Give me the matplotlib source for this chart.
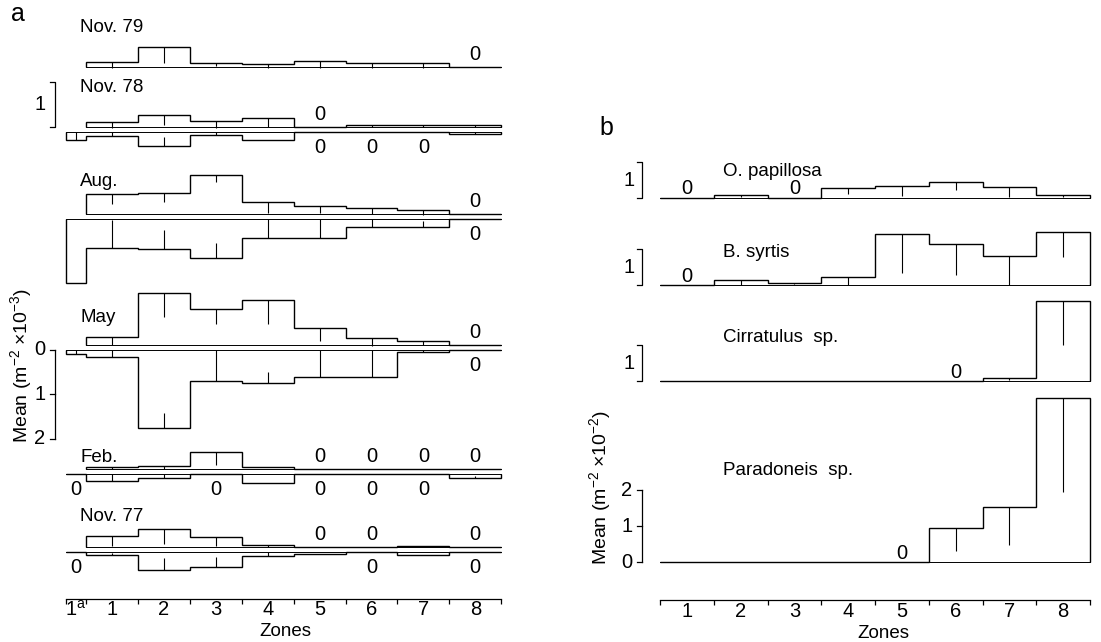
import numpy as np
import matplotlib.pyplot as plt

plt.rcParams['font.family'] = ['Liberation Sans', 'DejaVu Sans']
plt.rcParams['mathtext.fontset'] = 'custom'
plt.rcParams['mathtext.rm'] = 'Liberation Sans'
plt.rcParams['mathtext.it'] = 'Liberation Sans:italic'
plt.rcParams['mathtext.default'] = 'regular'

W, H = 1101, 642
nan = np.nan

# ---------------- panel a: mean density (x10^3 per m^2) by zone ----------------
zones_a = ['1a', '1', '2', '3', '4', '5', '6', '7', '8']
months = ['Nov. 79', 'Nov. 78', 'Aug.', 'May', 'Feb.', 'Nov. 77']

# upper histograms (zone 1a not sampled)
nov79_up = [nan, 0.11, 0.44, 0.09, 0.07, 0.13, 0.08, 0.09, 0]
nov78_up = [nan, 0.11, 0.27, 0.13, 0.20, 0, 0.04, 0.04, 0.05]
aug_up = [nan, 0.45, 0.48, 0.88, 0.27, 0.18, 0.13, 0.08, 0]
may_up = [nan, 0.18, 1.16, 0.82, 1.02, 0.38, 0.16, 0.09, 0]
feb_up = [nan, 0.05, 0.06, 0.38, 0.05, 0, 0, 0, 0]
nov77_up = [nan, 0.25, 0.40, 0.22, 0.05, 0, 0, 0.03, 0]

nov79_up_se = [nan, 0.13, 0.34, 0.07, 0.10, 0.15, 0.14, 0.15, 0]
nov78_up_se = [nan, 0.13, 0.22, 0.17, 0.19, 0, 0.05, 0.05, 0.05]
aug_up_se = [nan, 0.22, 0.22, 0.16, 0.25, 0.16, 0.13, 0.10, 0]
may_up_se = [nan, 0.18, 0.54, 0.34, 0.54, 0.28, 0.18, 0.09, 0]
feb_up_se = [nan, 0.05, 0.05, 0.29, 0, 0, 0, 0, 0]
nov77_up_se = [nan, 0.22, 0.33, 0.20, 0.05, 0, 0, 0, 0]

# lower (mirrored) histograms
nov78_lo = [0.18, 0.10, 0.31, 0.07, 0.18, 0, 0, 0, 0.04]
aug_lo = [1.45, 0.65, 0.68, 0.87, 0.43, 0.43, 0.18, 0.18, 0]
may_lo = [0.09, 0.16, 1.76, 0.70, 0.74, 0.62, 0.62, 0.05, 0]
feb_lo = [0, 0.16, 0.09, 0, 0.20, 0, 0, 0, 0.09]
nov77_lo = [0, 0.07, 0.40, 0.33, 0.10, 0.04, 0, 0.06, 0]

nov78_lo_se = [0.18, 0.10, 0.20, 0.07, 0, 0, 0, 0, 0.04]
aug_lo_se = [0, 0.62, 0.43, 0.33, 0.43, 0.43, 0.18, 0.14, 0]
may_lo_se = [0.09, 0.16, 0.34, 0.70, 0.24, 0.62, 0.62, 0.05, 0]
feb_lo_se = [0, 0.16, 0.09, 0, 0, 0, 0, 0, 0.05]
nov77_lo_se = [0, 0.05, 0.26, 0.22, 0.10, 0, 0, 0, 0]

# ---------------- panel b: mean density (x10^2 per m^2) by zone ----------------
zones_b = ['1', '2', '3', '4', '5', '6', '7', '8']
species = ['O. papillosa', 'B. syrtis', 'Cirratulus  sp.', 'Paradoneis  sp.']
opap = [0, 0.08, 0, 0.28, 0.33, 0.44, 0.30, 0.08]
bsyr = [0, 0.14, 0.06, 0.22, 1.42, 1.14, 0.80, 1.47]
cirr = [0, 0, 0, 0, 0, 0, 0.08, 2.22]
para = [0, 0, 0, 0, 0, 0.95, 1.52, 4.55]
opap_se = [0, 0.06, 0, 0.16, 0.28, 0.23, 0.26, 0.06]
bsyr_se = [0, 0.14, 0.04, 0.22, 1.09, 0.86, 0.80, 0.69]
cirr_se = [0, 0, 0, 0, 0, 0, 0.06, 1.23]
para_se = [0, 0, 0, 0, 0, 0.65, 1.05, 2.60]
zero_marks_b = [[1, 3], [1], [6], [5]]

# ---------------- layout ----------------
fig = plt.figure(figsize=(W / 100, H / 100), dpi=100)

# panel a axes: one zone = 51.9 px, one unit = 44.5 px
zpx_a, upx_a = 51.9, 44.5
axA = fig.add_axes([0, 0, 550.5 / W, 1])
axA.set_xlim(1 - 112 / zpx_a, 1 + (550.5 - 112) / zpx_a)
axA.set_ylim(-H / upx_a, 0)
axA.axis('off')

edges_a = np.array([0.115, 0.5, 1.5, 2.5, 3.5, 4.5, 5.5, 6.5, 7.5, 8.5])
centers_a = (edges_a[:-1] + edges_a[1:]) / 2

base_up = [-67, -127, -214, -345, -469, -547]
base_up = [b / upx_a for b in base_up]
gap = 0.11
label_y = [27, 88, 182, 318, 458, 517]

ups = [nov79_up, nov78_up, aug_up, may_up, feb_up, nov77_up]
ups_se = [nov79_up_se, nov78_up_se, aug_up_se, may_up_se, feb_up_se, nov77_up_se]
los = [None, nov78_lo, aug_lo, may_lo, feb_lo, nov77_lo]
los_se = [None, nov78_lo_se, aug_lo_se, may_lo_se, feb_lo_se, nov77_lo_se]

lw = 1.0
fs_txt = 13.5
fs_num = 14.5
fs_ylab = 14

for name, b, up, use, lo, lse, ly in zip(months, base_up, ups, ups_se, los, los_se, label_y):
    up = np.array(up[1:], float)
    use = np.array(use[1:], float)
    e = edges_a[1:]
    c = centers_a[1:]
    axA.plot([e[0], e[-1]], [b, b], color='k', lw=0.7)
    axA.stairs(b + up, e, baseline=b, color='k', lw=lw)
    nz = up > 0
    axA.vlines(c[nz], b + up[nz], np.maximum(b + up[nz] - use[nz], b - 0.02), color='k', lw=0.8)
    for ci, v in zip(c, up):
        if v == 0:
            axA.text(ci, b + 0.27, '0', ha='center', va='center', fontsize=fs_num)
    axA.text(80 / zpx_a + (1 - 112 / zpx_a), -ly / upx_a, name, ha='left', va='center', fontsize=fs_txt)
    if lo is not None:
        bl = b - gap
        lo = np.array(lo, float)
        lse = np.array(lse, float)
        axA.plot([edges_a[0], edges_a[-1]], [bl, bl], color='k', lw=0.7)
        axA.stairs(bl - lo, edges_a, baseline=bl, color='k', lw=lw)
        nz = lo > 0
        axA.vlines(centers_a[nz], bl - lo[nz], np.minimum(bl - lo[nz] + lse[nz], bl + 0.02), color='k', lw=0.8)
        for ci, v in zip(centers_a, lo):
            if v == 0:
                axA.text(ci, bl - 0.34, '0', ha='center', va='center', fontsize=fs_num)

# scale bar ("1") beside Nov. 78
xbar_a = 1 - (112 - 55) / zpx_a
tick_a = 5 / zpx_a
b78 = base_up[1]
axA.plot([xbar_a - tick_a, xbar_a, xbar_a, xbar_a - tick_a], [b78, b78, b78 + 1, b78 + 1], color='k', lw=0.9)
axA.text(xbar_a - 15 / zpx_a, b78 + 0.5, '1', ha='center', va='center', fontsize=fs_num)

# value axis for May (mirrored, downward)
bmay = base_up[3] - gap
yt = [0, 1, 2]
axA.plot([xbar_a, xbar_a], [bmay, bmay - 2], color='k', lw=0.9)
for t in yt:
    axA.plot([xbar_a - tick_a, xbar_a], [bmay - t, bmay - t], color='k', lw=0.9)
    axA.text(xbar_a - 15 / zpx_a, bmay - t, str(t), ha='center', va='center', fontsize=fs_num)

# zone axis
yax = -599 / upx_a
tk = 5 / upx_a
axA.plot([edges_a[0], edges_a[-1]], [yax, yax], color='k', lw=0.9)
axA.vlines(edges_a, yax, yax - tk, color='k', lw=0.9)
ztick_labels = [r'1$^{a}$'] + zones_a[1:]
for ci, lab in zip(centers_a, ztick_labels):
    axA.text(ci, yax - 11 / upx_a, lab, ha='center', va='center', fontsize=fs_num)
axA.text(1 + (285 - 112) / zpx_a, -632 / upx_a, 'Zones', ha='center', va='center', fontsize=13.5)

fig.text(21 / W, 1 - 365 / H, r'Mean (m$^{-2}$ $\times$10$^{-3}$)', rotation=90,
         ha='center', va='center', fontsize=fs_ylab)
fig.text(18 / W, 1 - 14 / H, 'a', ha='center', va='center', fontsize=18)

# ---------------- panel b ----------------
zpx_b, upx_b = 53.75, 36.0
x0b = 550.5
axB = fig.add_axes([x0b / W, 0, 1 - x0b / W, 1])
axB.set_xlim(0.5 + (x0b - 660) / zpx_b, 0.5 + (W - 660) / zpx_b)
axB.set_ylim(-H / upx_b, 0)
axB.axis('off')

edges_b = np.arange(0.5, 9.0, 1.0)
centers_b = np.arange(1, 9)
base_b = [-198 / upx_b, -285 / upx_b, -381 / upx_b, -562 / upx_b]
name_y_b = [172, 252, 337, 470]
vals_b = [opap, bsyr, cirr, para]
se_b = [opap_se, bsyr_se, cirr_se, para_se]
xbar_b = 0.5 + (642 - 660) / zpx_b
tick_b = 5 / zpx_b

for i, (sp, b, v, s, zm, ny) in enumerate(zip(species, base_b, vals_b, se_b, zero_marks_b, name_y_b)):
    v = np.array(v, float)
    s = np.array(s, float)
    axB.plot([edges_b[0], edges_b[-1]], [b, b], color='k', lw=0.7)
    axB.stairs(b + v, edges_b, baseline=b, color='k', lw=lw)
    nz = v > 0
    axB.vlines(centers_b[nz], b + v[nz], np.maximum(b + v[nz] - s[nz], b), color='k', lw=0.8)
    for z in zm:
        axB.text(z, b + 9 / upx_b, '0', ha='center', va='center', fontsize=fs_num)
    axB.text(0.5 + (723 - 660) / zpx_b, -ny / upx_b, sp, ha='left', va='center', fontsize=fs_txt)
    if i < 3:
        axB.plot([xbar_b - tick_b, xbar_b, xbar_b, xbar_b - tick_b], [b, b, b + 1, b + 1], color='k', lw=0.9)
        axB.text(xbar_b - 13 / zpx_b, b + 0.5, '1', ha='center', va='center', fontsize=fs_num)
    else:
        axB.plot([xbar_b, xbar_b], [b, b + 2], color='k', lw=0.9)
        for t in yt:
            axB.plot([xbar_b - tick_b, xbar_b], [b + t, b + t], color='k', lw=0.9)
            axB.text(xbar_b - 15 / zpx_b, b + t, str(t), ha='center', va='center', fontsize=fs_num)

yax_b = -600 / upx_b
tkb = 5 / upx_b
axB.plot([edges_b[0], edges_b[-1]], [yax_b, yax_b], color='k', lw=0.9)
axB.vlines(edges_b, yax_b, yax_b - tkb, color='k', lw=0.9)
for ci, lab in zip(centers_b, zones_b):
    axB.text(ci, yax_b - 11 / upx_b, lab, ha='center', va='center', fontsize=fs_num)
axB.text(0.5 + (883 - 660) / zpx_b, -633 / upx_b, 'Zones', ha='center', va='center', fontsize=13.5)

fig.text(600 / W, 1 - 487 / H, r'Mean (m$^{-2}$ $\times$10$^{-2}$)', rotation=90,
         ha='center', va='center', fontsize=fs_ylab)
fig.text(606 / W, 1 - 128 / H, 'b', ha='center', va='center', fontsize=18)

fig.savefig('out.png', dpi=100, facecolor='white')
